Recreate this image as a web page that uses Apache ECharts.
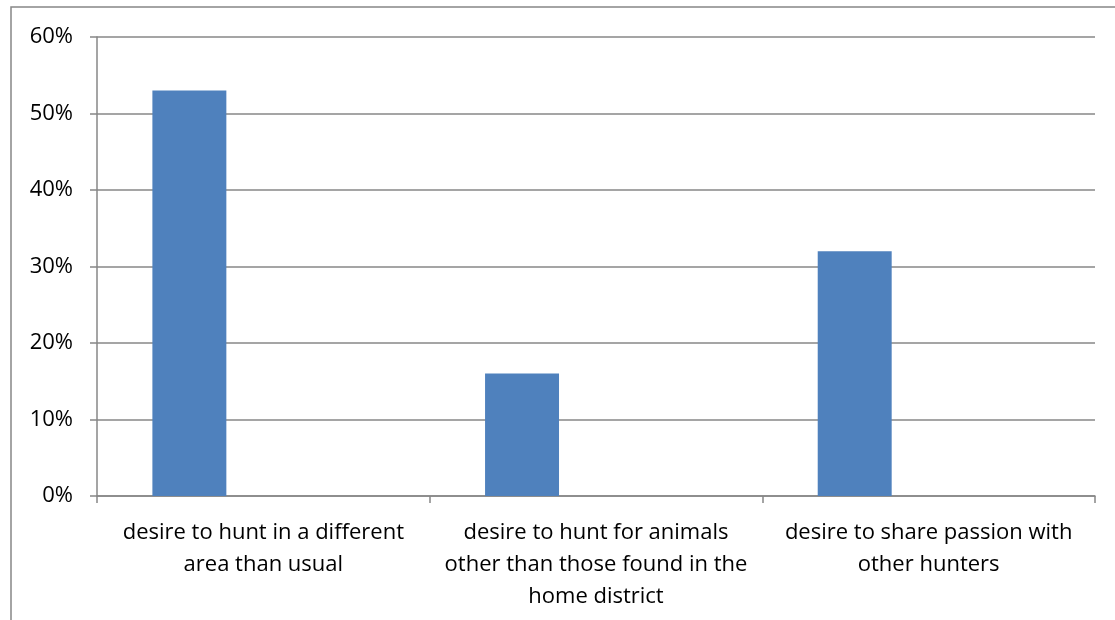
<!DOCTYPE html>
<html>
<head>
<meta charset="utf-8">
<script src="https://cdn.jsdelivr.net/npm/echarts@6/dist/echarts.min.js"></script>
<style>
  html, body { margin: 0; padding: 0; background: #fff; }
  #chart { width: 1115px; height: 620px; }
</style>
</head>
<body>
<div id="chart"></div>
<script>
// Reasons given for hunting (share of respondents, %)
const categories = [
  'desire to hunt in a different\narea than usual',
  'desire to hunt for animals\nother than those found in the\nhome district',
  'desire to share passion with\nother hunters'
];
const shares = [53, 16, 32];
const yTicks = { min: 0, max: 60, interval: 10 };

const axisGray = '#878787';
const font = '"Open Sans", "Noto Sans", sans-serif';

const chart = echarts.init(document.getElementById('chart'), null, { renderer: 'canvas' });
chart.setOption({
  animation: false,
  backgroundColor: '#fff',
  graphic: [{
    type: 'rect',
    shape: { x: 11, y: 7, width: 2000, height: 2000 },
    style: { fill: 'none', stroke: axisGray, lineWidth: 1.5 },
    silent: true
  }],
  grid: { left: 97, right: 20, top: 37, bottom: 124, containLabel: false },
  xAxis: {
    type: 'category',
    data: categories,
    axisLine: { show: true, lineStyle: { color: axisGray, width: 1.5 } },
    axisTick: { show: true, length: 7, alignWithLabel: false, lineStyle: { color: axisGray, width: 1.5 } },
    axisLabel: {
      interval: 0, margin: 21, color: '#000',
      fontFamily: font, fontSize: 22, lineHeight: 32, align: 'center'
    }
  },
  yAxis: {
    type: 'value',
    min: yTicks.min, max: yTicks.max, interval: yTicks.interval,
    axisLine: { show: true, lineStyle: { color: axisGray, width: 1.5 } },
    axisTick: { show: true, length: 7, lineStyle: { color: axisGray, width: 1.5 } },
    splitLine: { show: true, lineStyle: { color: axisGray, width: 1.5 } },
    axisLabel: {
      formatter: '{value}%', margin: 24, color: '#000',
      fontFamily: font, fontSize: 22
    }
  },
  series: [
    {
      type: 'bar', data: shares,
      barGap: '0%', barCategoryGap: '33.3%',
      itemStyle: { color: '#4F81BD' }
    },
    { type: 'bar', data: [null, null, null] },
    { type: 'bar', data: [null, null, null] }
  ]
});
</script>
</body>
</html>
